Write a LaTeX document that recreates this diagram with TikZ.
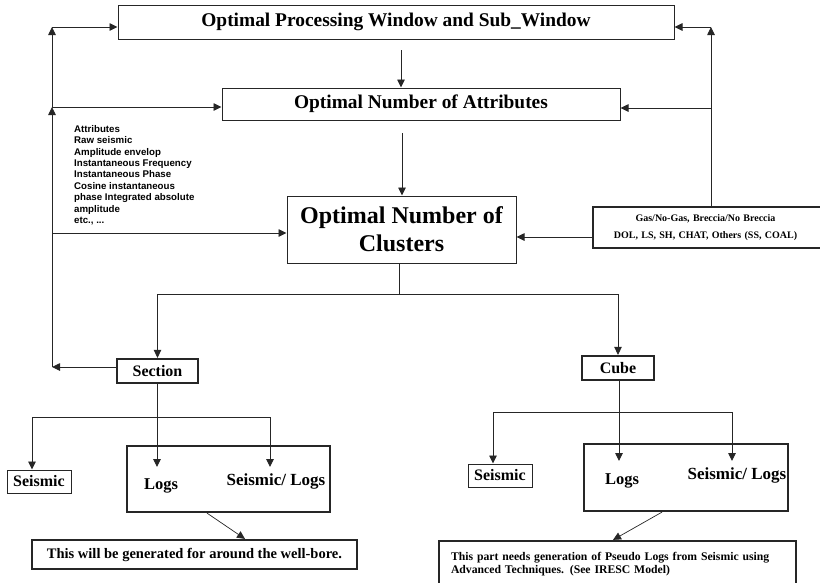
\documentclass[tikz,border=0pt]{standalone}
\usepackage{fontspec}
\setmainfont{Liberation Serif}
\newfontfamily\attrfont{Liberation Sans}
\usetikzlibrary{arrows.meta}
\newcommand{\fsz}[2]{\fontsize{#1}{#2}\selectfont}
\tikzset{
  x=1pt, y=-1pt,
  line/.style={draw=black!85, line width=0.9pt},
  arr/.style={line, -{Triangle[length=8pt,width=7.5pt]}},
  box/.style={draw=black!85, line width=1pt, fill=white, inner sep=0pt, font=\bfseries},
  thickbox/.style={box, line width=2.2pt},
  label/.style={inner sep=0pt, font=\bfseries},
}
\begin{document}
\begin{tikzpicture}
\useasboundingbox (0,0) rectangle (820,582);
\clip (0,0) rectangle (820,582);

% main chain of boxes
\node[box, minimum width=556pt, minimum height=34pt, font=\bfseries\fsz{19.4}{21}] (top) at (396,22) {Optimal Processing Window and Sub\_Window};
\node[box, minimum width=398pt, minimum height=32pt, font=\bfseries\fsz{19.4}{21}] (attr) at (421,104) {Optimal Number of Attributes};
\node[box, minimum width=229pt, minimum height=67pt, align=center, font=\bfseries\fsz{24}{28}] (clusters) at (401.5,229.5) {Optimal Number of\\Clusters};
\node[thickbox, minimum width=232pt, minimum height=41pt, text width=226pt, align=left, font=\bfseries\fsz{10}{17}] (gas) at (709,227.5)
  {\hspace*{22pt}\makebox[175pt][c]{Gas/No-Gas, Breccia/No Breccia}\\\hspace*{22pt}\makebox[175pt][c]{DOL, LS, SH, CHAT, Others (SS, COAL)}};

% list of attributes
\node[inner sep=0pt, anchor=north west, align=left, font=\attrfont\bfseries\fsz{9.7}{11.4}] (attrlist) at (74,125)
  {Attributes\\Raw seismic\\Amplitude envelop\\Instantaneous Frequency\\Instantaneous Phase\\Cosine instantaneous\\phase Integrated absolute\\amplitude\\etc., ...};

% section / cube
\node[thickbox, minimum width=81pt, minimum height=24pt, font=\bfseries\fsz{16}{18}] (section) at (157.5,371) {Section};
\node[thickbox, minimum width=72pt, minimum height=24pt, font=\bfseries\fsz{16}{18}] (cube) at (618,368) {Cube};

% section branch
\node[box, minimum width=64pt, minimum height=23pt, font=\bfseries\fsz{16}{18}] (secseis) at (39,481.5) {Seismic};
\node[thickbox, minimum width=203pt, minimum height=66pt] (seclogs) at (228.5,479) {};
\node[label, font=\bfseries\fsz{16.5}{18}] (seclogsA) at (161,486) {Logs};
\node[label, font=\bfseries\fsz{17}{19}] (seclogsB) at (276,481) {Seismic/ Logs};
\node[thickbox, minimum width=325pt, minimum height=29pt, font=\bfseries\fsz{14.5}{16}] (wellbore) at (194.5,554.5) {This will be generated for around the well-bore.};

% cube branch
\node[box, minimum width=64pt, minimum height=23pt, font=\bfseries\fsz{16}{18}] (cubeseis) at (500,475.5) {Seismic};
\node[thickbox, minimum width=204pt, minimum height=67pt] (cubelogs) at (686,477.5) {};
\node[label, font=\bfseries\fsz{16.5}{18}] (cubelogsA) at (622,481) {Logs};
\node[label, font=\bfseries\fsz{17}{19}] (cubelogsB) at (737,475) {Seismic/ Logs};
\node[thickbox, minimum width=357pt, minimum height=46pt, text width=333pt, inner xsep=12pt, align=left, font=\bfseries\fsz{11.7}{12.7}] (pseudo) at (617.5,564)
  {This part needs generation of Pseudo Logs from Seismic using\\Advanced Techniques. (See IRESC Model)\\[5pt]};

% helper points
\coordinate (a1) at (401,50);
\coordinate (a2) at (402,133);
\coordinate (L0) at (52,367);
\coordinate (L1) at (52,27);
\coordinate (L2) at (52,107);
\coordinate (L3) at (52,233);
\coordinate (R1) at (711,27);
\coordinate (R2) at (711,108);
\coordinate (G) at (593,237);
\coordinate (j1) at (399,294);
\coordinate (j2) at (157,417);
\coordinate (s1) at (32,417);
\coordinate (s3) at (270,417);
\coordinate (t1) at (157,467);
\coordinate (t2) at (270,467);
\coordinate (j3) at (619,412);
\coordinate (c1) at (493,412);
\coordinate (c3) at (732,412);
\coordinate (u1) at (619,461);
\coordinate (u2) at (732,461);

% downward chain
\draw[arr] (a1) -- (a1 |- attr.north);
\draw[arr] (a2) -- (a2 |- clusters.north);

% left feedback loop
\draw[arr] (section.west |- L0) -- (L0);
\draw[arr] (L0) -- (L2);
\draw[arr] (L2) -- (L1);
\draw[arr] (L1) -- (L1 -| top.west);
\draw[arr] (L2) -- (L2 -| attr.west);
\draw[arr] (L3) -- (L3 -| clusters.west);

% right feedback loop
\draw[arr] (gas.north -| R1) -- (R1);
\draw[arr] (R1) -- (R1 -| top.east);
\draw[arr] (R2) -- (R2 -| attr.east);
\draw[arr] (G) -- (G -| clusters.east);

% split into section and cube
\draw[line] (clusters.south -| j1) -- (j1);
\draw[arr] (j1) -| (section.north);
\draw[arr] (j1) -| (cube.north);

% section outputs
\draw[line] (section.south -| j2) -- (j2);
\draw[line] (s1) -- (s3);
\draw[arr] (s1) -- (s1 |- secseis.north);
\draw[arr] (j2) -- (t1);
\draw[arr] (s3) -- (t2);
\draw[arr, line width=0.7pt] ([xshift=-21.5pt]seclogs.south) -- ([xshift=50.5pt]wellbore.north);

% cube outputs
\draw[line] (cube.south -| j3) -- (j3);
\draw[line] (c1) -- (c3);
\draw[arr] (c1) -- (c1 |- cubeseis.north);
\draw[arr] (j3) -- (u1);
\draw[arr] (c3) -- (u2);
\draw[arr, line width=0.7pt] ([xshift=-24pt]cubelogs.south) -- ([xshift=-4.5pt]pseudo.north);
\end{tikzpicture}
\end{document}
